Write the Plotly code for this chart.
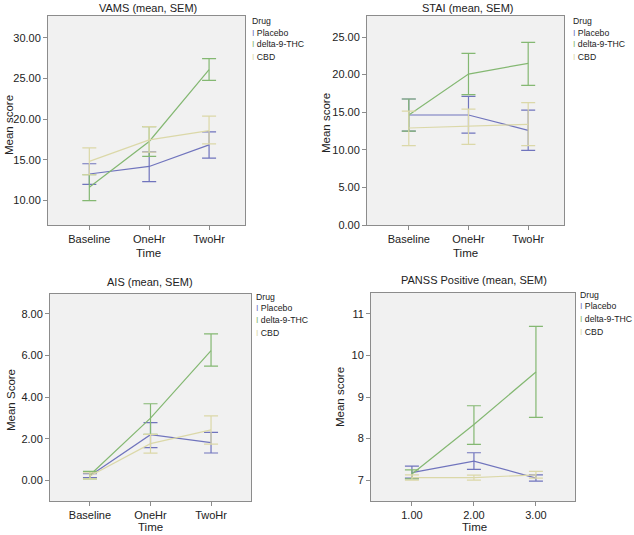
import plotly.graph_objects as go

W, H = 634, 535

# ---------------- data ----------------
time_labels = ["Baseline", "OneHr", "TwoHr"]
panss_time_labels = ["1.00", "2.00", "3.00"]
drugs = ["Placebo", "delta-9-THC", "CBD"]

# VAMS
vams_placebo = [13.27, 14.20, 16.86]
vams_placebo_hi = [14.53, 16.00, 18.45]
vams_placebo_lo = [12.00, 12.33, 15.22]
vams_thc = [11.63, 17.27, 26.10]
vams_thc_hi = [13.18, 19.10, 27.47]
vams_thc_lo = [10.00, 15.43, 24.78]
vams_cbd = [14.82, 17.47, 18.60]
vams_cbd_hi = [16.49, 19.10, 20.40]
vams_cbd_lo = [13.18, 15.96, 16.98]

# STAI
stai_placebo = [14.63, 14.63, 12.59]
stai_placebo_hi = [16.76, 17.10, 15.29]
stai_placebo_lo = [12.50, 12.23, 9.93]
stai_thc = [14.63, 20.08, 21.50]
stai_thc_hi = [16.76, 22.83, 24.29]
stai_thc_lo = [12.50, 17.33, 18.57]
stai_cbd = [12.90, 13.12, 13.39]
stai_cbd_hi = [15.16, 15.42, 16.27]
stai_cbd_lo = [10.55, 10.73, 10.55]

# AIS
ais_placebo = [0.22, 2.19, 1.81]
ais_placebo_hi = [0.32, 2.77, 2.30]
ais_placebo_lo = [0.13, 1.57, 1.31]
ais_thc = [0.25, 2.99, 6.24]
ais_thc_hi = [0.43, 3.68, 7.04]
ais_thc_lo = [0.06, 2.21, 5.49]
ais_cbd = [0.20, 1.76, 2.42]
ais_cbd_hi = [0.35, 2.21, 3.10]
ais_cbd_lo = [0.06, 1.30, 1.74]

# PANSS Positive
panss_placebo = [7.18, 7.46, 7.05]
panss_placebo_hi = [7.34, 7.66, 7.13]
panss_placebo_lo = [7.05, 7.26, 6.98]
panss_thc = [7.15, 8.34, 9.60]
panss_thc_hi = [7.25, 8.79, 10.70]
panss_thc_lo = [7.03, 7.86, 8.51]
panss_cbd = [7.06, 7.06, 7.13]
panss_cbd_hi = [7.13, 7.12, 7.21]
panss_cbd_lo = [7.00, 7.00, 7.05]

# ---------------- style ----------------
colors = {"Placebo": "#7074bd", "delta-9-THC": "#84b872", "CBD": "#dbd8a8"}
FONT = "Liberation Sans, Arial, sans-serif"
BORDER = "#8c8c8c"


def fx(px):
    return px / W


def fy(py):
    return 1 - py / H


panels = [
    dict(title="VAMS (mean, SEM)", ytitle="Mean score", x=[0, 1, 2], xt=time_labels,
         xrange=[-0.69, 2.6], yrange=[7.0, 32.7], ytick=[10, 15, 20, 25, 30],
         series=[(vams_placebo, vams_placebo_hi, vams_placebo_lo),
                 (vams_thc, vams_thc_hi, vams_thc_lo),
                 (vams_cbd, vams_cbd_hi, vams_cbd_lo)],
         fmt="{:.2f}", dom_x=(48, 245), dom_y=(16, 225)),
    dict(title="STAI (mean, SEM)", ytitle="Mean score", x=[0, 1, 2], xt=time_labels,
         xrange=[-0.70, 2.6], yrange=[0, 27.8], ytick=[0, 5, 10, 15, 20, 25],
         series=[(stai_placebo, stai_placebo_hi, stai_placebo_lo),
                 (stai_thc, stai_thc_hi, stai_thc_lo),
                 (stai_cbd, stai_cbd_hi, stai_cbd_lo)],
         fmt="{:.2f}", dom_x=(367, 564), dom_y=(16, 225)),
    dict(title="AIS (mean, SEM)", ytitle="Mean Score", x=[0, 1, 2], xt=time_labels,
         xrange=[-0.66, 2.66], yrange=[-1.0, 8.96], ytick=[0, 2, 4, 6, 8],
         series=[(ais_placebo, ais_placebo_hi, ais_placebo_lo),
                 (ais_thc, ais_thc_hi, ais_thc_lo),
                 (ais_cbd, ais_cbd_hi, ais_cbd_lo)],
         fmt="{:.2f}", dom_x=(50, 251), dom_y=(294, 501)),
    dict(title="PANSS Positive (mean, SEM)", ytitle="Mean score", x=[1, 2, 3], xt=panss_time_labels,
         xrange=[0.34, 3.63], yrange=[6.5, 11.5], ytick=[7, 8, 9, 10, 11],
         series=[(panss_placebo, panss_placebo_hi, panss_placebo_lo),
                 (panss_thc, panss_thc_hi, panss_thc_lo),
                 (panss_cbd, panss_cbd_hi, panss_cbd_lo)],
         fmt="{:d}", dom_x=(371, 575), dom_y=(293, 501)),
]

# positions of texts (window pixels)
title_pos = [(148, 8), (467, 8), (150, 282), (474, 280)]
xtitle_pos = [(148, 253), (465, 253), (150, 527), (474, 527)]
ytitle_pos = [(9, 125), (326, 123), (11, 400), (340, 397)]
legend_pos = [(250, [21, 33, 44, 57]), (571, [21, 33, 44, 57]),
              (254, [297, 308, 320, 333]), (578, [295, 306, 319, 332])]

fig = go.Figure()
layout = dict(
    width=W, height=H, margin=dict(l=0, r=0, t=0, b=0, autoexpand=False),
    paper_bgcolor="white", plot_bgcolor="#f1f1f1",
    font=dict(family=FONT, size=11, color="#222"),
    showlegend=False,
)
annotations = []

for i, p in enumerate(panels):
    n = "" if i == 0 else str(i + 1)
    xa, ya = "x" + n, "y" + n
    for name, (m, hi, lo) in zip(drugs, p["series"]):
        fig.add_trace(go.Scatter(
            x=p["x"], y=m, mode="lines", name=name, xaxis=xa, yaxis=ya,
            line=dict(color=colors[name], width=1.2),
            error_y=dict(type="data", symmetric=False,
                         array=[h - v for h, v in zip(hi, m)],
                         arrayminus=[v - l for v, l in zip(m, lo)],
                         color=colors[name], thickness=1.2, width=7),
            hoverinfo="x+y+name",
        ))
    x0, x1 = p["dom_x"]
    y0, y1 = p["dom_y"]
    axis_common = dict(showline=True, mirror=True, linecolor=BORDER, linewidth=1,
                       showgrid=False, zeroline=False, ticks="outside", ticklen=4,
                       automargin=False,
                       tickcolor=BORDER, tickfont=dict(size=11, family=FONT, color="#222"))
    layout["xaxis" + n] = dict(axis_common, domain=[fx(x0), fx(x1)], range=p["xrange"],
                               tickmode="array", tickvals=p["x"], ticktext=p["xt"],
                               anchor=ya)
    layout["yaxis" + n] = dict(axis_common, domain=[fy(y1), fy(y0)], range=p["yrange"],
                               tickmode="array", tickvals=p["ytick"],
                               ticktext=[p["fmt"].format(v) for v in p["ytick"]],
                               anchor=xa)
    tx, ty = title_pos[i]
    annotations.append(dict(text=p["title"], x=fx(tx), y=fy(ty), xref="paper", yref="paper",
                            xanchor="center", yanchor="middle", showarrow=False,
                            font=dict(size=11, family=FONT, color="#222")))
    tx, ty = xtitle_pos[i]
    annotations.append(dict(text="Time", x=fx(tx), y=fy(ty), xref="paper", yref="paper",
                            xanchor="center", yanchor="middle", showarrow=False,
                            font=dict(size=11.5, family=FONT, color="#222")))
    tx, ty = ytitle_pos[i]
    annotations.append(dict(text=p["ytitle"], x=fx(tx), y=fy(ty), xref="paper", yref="paper",
                            xanchor="center", yanchor="middle", showarrow=False, textangle=-90,
                            font=dict(size=11.5, family=FONT, color="#222")))
    lx, lys = legend_pos[i]
    annotations.append(dict(text="Drug", x=fx(lx), y=fy(lys[0]), xref="paper", yref="paper",
                            xanchor="left", yanchor="middle", showarrow=False,
                            font=dict(size=8.7, family=FONT, color="#222")))
    for name, ly in zip(drugs, lys[1:]):
        annotations.append(dict(
            text=f'<span style="color:{colors[name]}">I</span> {name}',
            x=fx(lx), y=fy(ly), xref="paper", yref="paper",
            xanchor="left", yanchor="middle", showarrow=False,
            font=dict(size=8.7, family=FONT, color="#222")))

layout["annotations"] = annotations
fig.update_layout(**layout)
fig.write_html("out.html",
               config={"displayModeBar": False},
               post_script="document.body.style.margin='0';document.body.style.overflow='hidden';")
